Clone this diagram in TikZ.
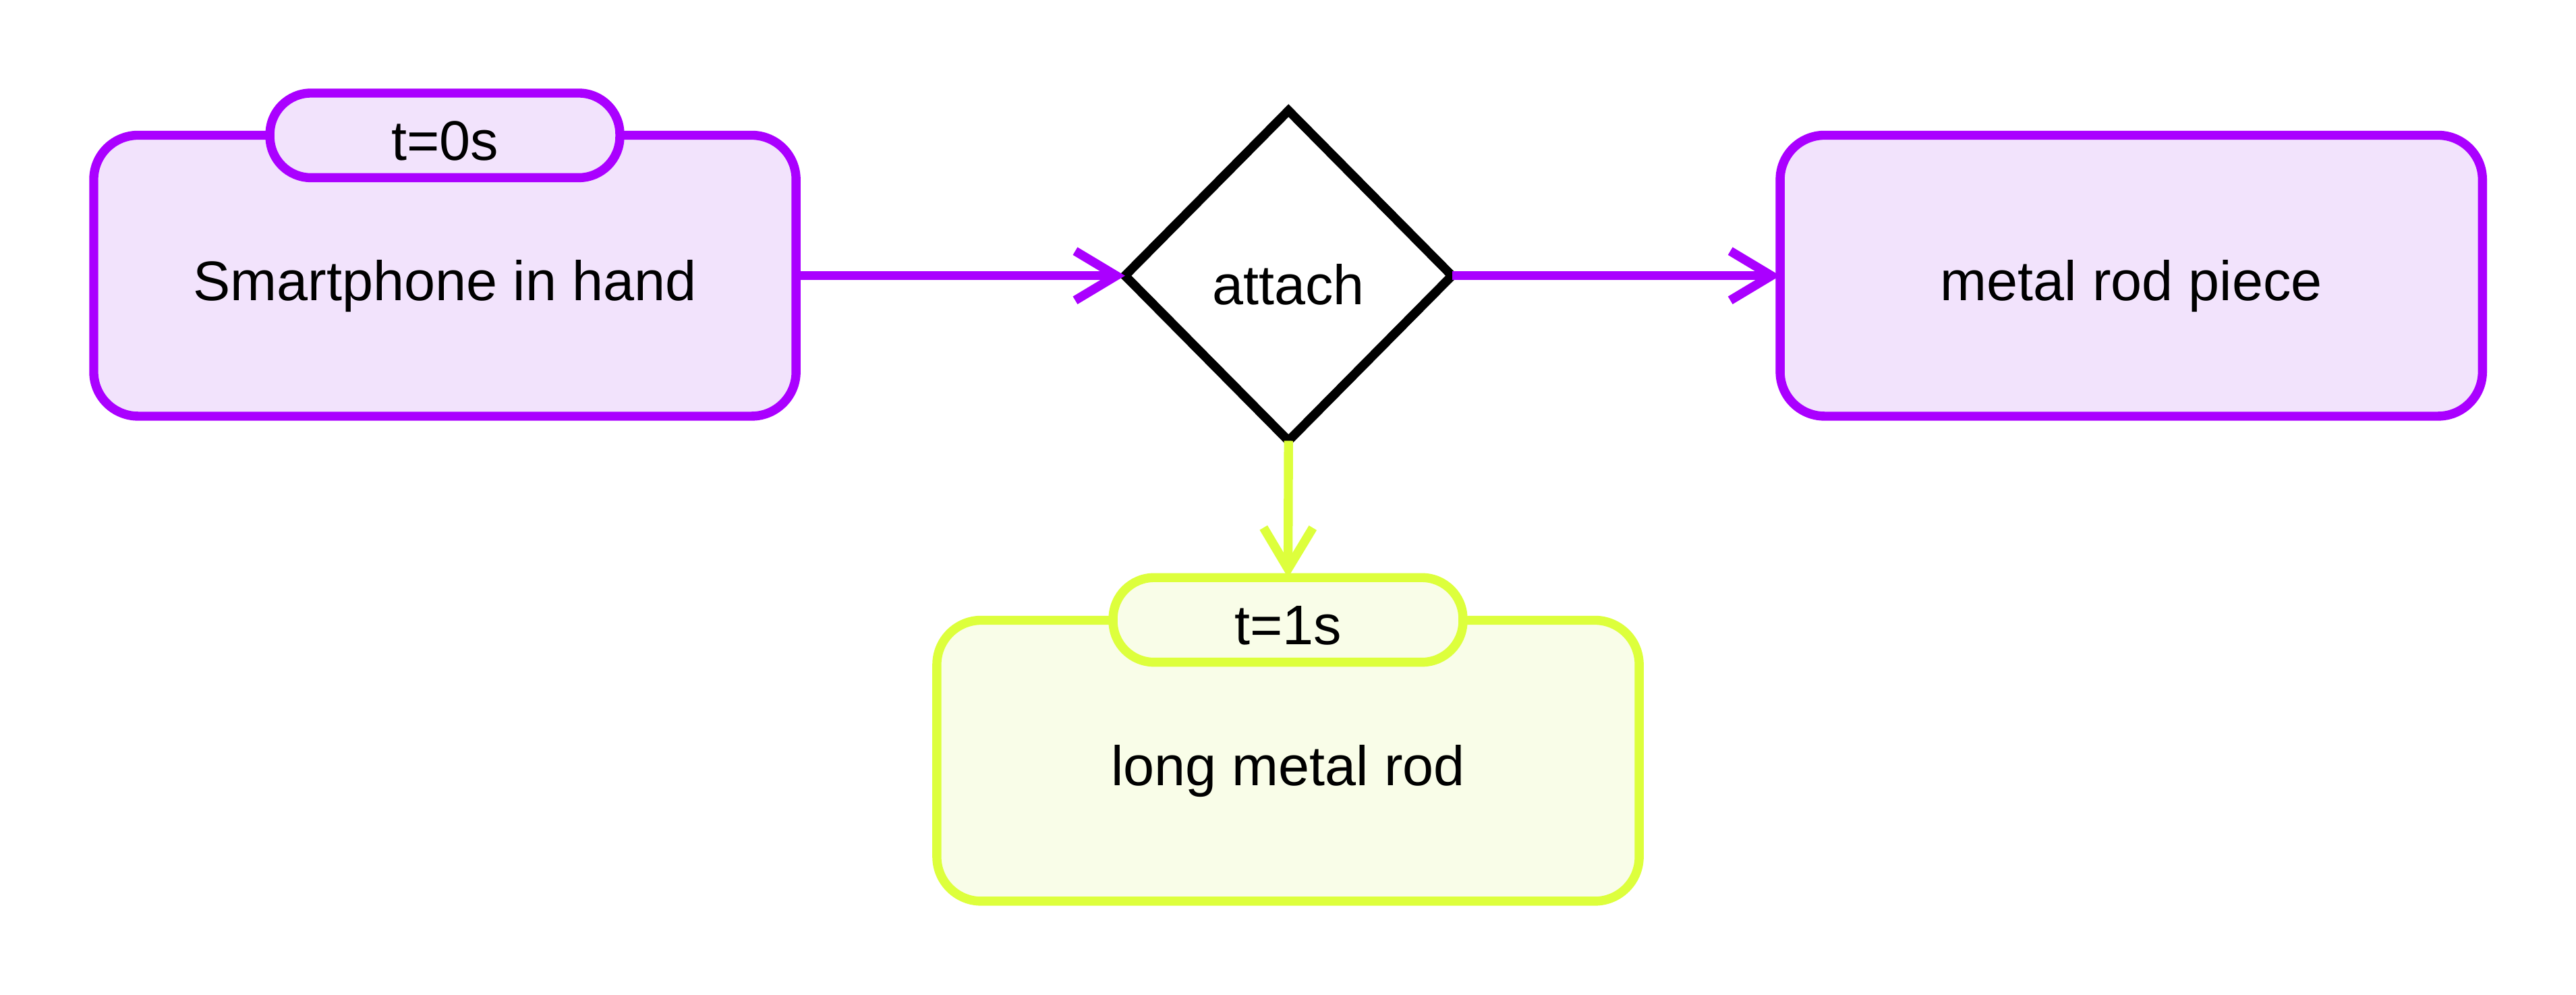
\documentclass[tikz,border=0pt]{standalone}
\usepackage{fontspec}
\setmainfont{Liberation Sans}
\usetikzlibrary{shapes.geometric,arrows.meta}
\definecolor{pstroke}{HTML}{AA00FF}
\definecolor{pfill}{HTML}{F2E3FC}
\definecolor{ystroke}{HTML}{DDFF3C}
\definecolor{yfill}{HTML}{F9FDE8}
\begin{document}
\begin{tikzpicture}[x=1pt,y=-1pt,line width=5.5pt,
  font=\fontsize{34}{40}\selectfont,
  basebox/.style={rectangle,rounded corners=27pt,minimum width=427.5pt,minimum height=171pt,
    inner sep=0pt,outer sep=0pt,text height=34pt,text depth=4pt},
  basetag/.style={rectangle,rounded corners=25pt,minimum width=213pt,minimum height=51.5pt,
    inner sep=0pt,outer sep=0pt,text height=34pt,text depth=4pt},
  pbox/.style={basebox,draw=pstroke,fill=pfill},
  ybox/.style={basebox,draw=ystroke,fill=yfill},
  ptag/.style={basetag,draw=pstroke,fill=pfill},
  ytag/.style={basetag,draw=ystroke,fill=yfill},
  decision/.style={diamond,aspect=1,draw=black,fill=white,minimum width=199pt,minimum height=201pt,
    inner sep=0pt,outer sep=0pt,text height=38pt,text depth=3pt},
  conn/.style={-{Straight Barb[length=25pt,width=30pt]},line width=5.5pt}
]
\useasboundingbox (0,0) rectangle (1568,605.6);
\node[pbox] (phone) at (270.8,167.8) {Smartphone in hand};
\node[ptag] (t0) at (270.8,82.4) {t=0s};
\node[decision] (attach) at (784.3,167.8) {attach};
\node[pbox] (piece) at (1297.3,167.8) {metal rod piece};
\node[ybox] (rod) at (784,463) {long metal rod};
\node[ytag] (t1) at (784,377.3) {t=1s};
\draw[conn,pstroke] (phone.east) -- (attach.west);
\draw[conn,pstroke] (attach.east) -- (piece.west);
\draw[conn,ystroke] (attach.south) -- (t1.north);
\end{tikzpicture}
\end{document}
